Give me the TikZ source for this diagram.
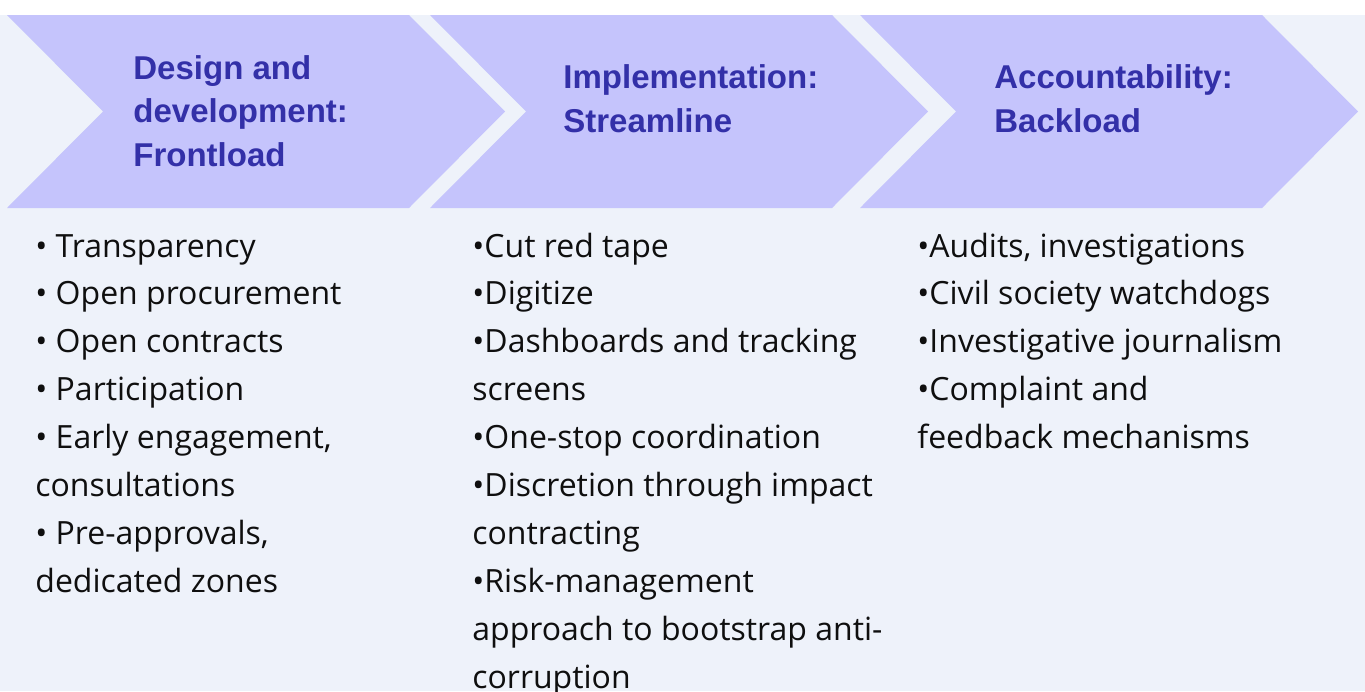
\documentclass[tikz,border=0pt]{standalone}
\usepackage{fontspec}
\setmainfont{Open Sans}
\newfontfamily\headfont{Liberation Sans}
\definecolor{pagebg}{HTML}{EEF2FA}
\definecolor{chevfill}{HTML}{C5C4FC}
\definecolor{headink}{HTML}{3330A8}
\definecolor{bodyink}{HTML}{0F0F0F}
\begin{document}
\begin{tikzpicture}[x=0.5pt,y=-0.5pt,
  chev/.style={fill=chevfill,draw=none},
  head/.style={anchor=base west,inner sep=0pt,text=headink,
    font=\headfont\bfseries\fontsize{16.5pt}{22pt}\selectfont},
  body/.style={anchor=base west,inner sep=0pt,text=bodyink,
    font=\fontsize{16pt}{24pt}\selectfont}]
\useasboundingbox (0,0) rectangle (1365,691);
\fill[white] (0,0) rectangle (1365,15);
\fill[pagebg] (0,15) rectangle (1365,691);

% three chevrons of the process band
\path[chev] (7,15) -- (409,15) -- (505,111.5) -- (409,208) -- (7,208) -- (103,111.5) -- cycle;
\path[chev] (430,15) -- (832,15) -- (928,111.5) -- (832,208) -- (430,208) -- (526,111.5) -- cycle;
\path[chev] (860,15) -- (1262,15) -- (1358,111.5) -- (1262,208) -- (860,208) -- (956,111.5) -- cycle;

% stage titles
\node[head] (h1a) at (133,79) {Design and};
\node[head] (h1b) at (133,122.5) {development:};
\node[head] (h1c) at (133,166) {Frontload};
\node[head] (h2a) at (563,88) {Implementation:};
\node[head] (h2b) at (563,132) {Streamline};
\node[head] (h3a) at (994,88) {Accountability:};
\node[head] (h3b) at (994,132) {Backload};

% measures under each stage, one node per printed line
\foreach \t [count=\i] in {• Transparency, • Open procurement, • Open contracts,
    • Participation, {• Early engagement,}, consultations, {• Pre-approvals,},
    dedicated zones}
  \node[body] (a\i) at (35,{257+47.9*(\i-1)}) {\t};

\foreach \t [count=\i] in {•Cut red tape, •Digitize, •Dashboards and tracking,
    screens, •One-stop coordination, •Discretion through impact, contracting,
    •Risk-management, approach to bootstrap anti-, corruption}
  \node[body] (b\i) at (472,{257+47.9*(\i-1)}) {\t};

\foreach \t [count=\i] in {{•Audits, investigations}, •Civil society watchdogs,
    •Investigative journalism, •Complaint and, feedback mechanisms}
  \node[body] (c\i) at (917,{257+47.9*(\i-1)}) {\t};
\end{tikzpicture}
\end{document}
